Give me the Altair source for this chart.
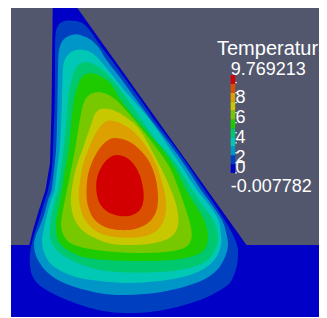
import altair as alt
import pandas as pd

# ---- frame of the rendered field (picture units, y grows downward) ----
FRAME_X = [11, 319]
FRAME_Y = [8, 317]

SUBSTRATE_X = [11, 327]
SUBSTRATE_Y = [245, 317]

DOMAIN_X = [52.7, 77.3, 246.5, 29.3, 33, 38, 45.5, 50, 51.5]
DOMAIN_Y = [8, 8, 245, 245, 230, 213, 190, 163, 110]

# contour boundaries (outer edge of each temperature band)
C1_X = [68, 76, 83, 89.5, 100, 111.5, 126, 140.5, 158, 177, 191, 204.5, 218, 230.5, 237, 238, 237, 234, 229, 217, 200, 173, 150, 130, 110, 90, 67, 50, 38, 32, 30, 30, 31.5, 35, 40.5, 45, 48, 51, 52.5, 53.5, 54.5, 55, 55, 55.5, 58, 62]
C1_Y = [20.5, 21, 23.5, 30, 45, 60, 80, 100, 125, 150, 170, 190, 210, 230, 245, 255, 265, 275, 284, 292, 300, 308, 312, 313, 312, 308, 300, 292, 284, 275, 265, 255, 245, 232, 215, 200, 190, 175, 160, 135, 110, 80, 60, 35, 26, 22]

C2_X = [74, 83, 91, 99, 106.5, 122, 136.5, 155, 174, 188, 201, 212, 222, 226, 228, 225, 217, 203, 180, 155, 128, 105, 78, 58, 45, 36.5, 34, 36, 39, 44, 48, 51.5, 54, 56, 57, 57.5, 58, 59, 64]
C2_Y = [34.5, 36, 40, 48, 60, 80, 100, 125, 150, 170, 190, 205, 220, 232, 245, 257, 270, 280, 288, 293, 295, 294, 288, 280, 270, 257, 245, 235, 228, 215, 200, 190, 170, 150, 125, 100, 70, 50, 39]

C3_X = [79, 88, 97, 108, 120, 133, 150, 162, 170.5, 184, 197, 209, 218.5, 221, 221, 217, 208, 190, 160, 128, 100, 80, 65, 52, 45, 42, 44, 47, 51, 54.5, 57, 59.5, 61, 62, 62.5, 64, 70]
C3_Y = [49.5, 51, 57, 70, 85, 100, 120, 137, 150, 170, 190, 205, 220, 235, 245, 256, 266, 275, 281, 283, 281, 278, 273, 265, 255, 242, 228, 215, 200, 190, 170, 150, 125, 100, 80, 62, 53]

C4_X = [83, 93, 104, 116, 128, 142, 156, 167, 180, 192, 203, 213, 218, 215, 205, 185, 160, 130, 100, 75, 60, 53, 50, 51, 55, 58, 61, 63.5, 66, 68, 71, 76]
C4_Y = [62.5, 64, 71, 84, 100, 120, 140, 152, 170, 190, 206, 220, 236, 250, 262, 269, 272, 272.5, 270, 262, 253, 245, 235, 220, 200, 190, 170, 150, 125, 100, 82, 68]

C5_X = [88, 98, 110, 121, 135, 150, 163, 175, 186, 196, 205, 208, 204, 190, 165, 130, 100, 80, 66, 58, 56, 58, 62, 65, 68.5, 71, 74, 78, 82]
C5_Y = [73.5, 75, 83, 100, 118, 135, 150, 168, 190, 206, 222, 238, 250, 257, 260.5, 261, 259.5, 256, 249, 240, 225, 210, 190, 170, 150, 125, 100, 85, 77]

C6_X = [95, 105, 116, 130, 145, 158, 170, 179, 186, 191, 191, 184, 165, 140, 115, 90, 72, 64, 61, 63, 67, 71, 75, 79, 83, 88]
C6_Y = [92.5, 93.5, 100, 115, 133, 150, 168, 190, 210, 228, 240, 248, 252, 253, 252, 249, 244, 236, 225, 210, 190, 170, 150, 125, 105, 96]

C7_X = [101, 113, 127, 140, 151.5, 162, 171, 177, 178, 171, 152, 130, 110, 95, 82, 74, 71, 72, 76, 83, 91, 95]
C7_Y = [109, 110, 118, 130, 150, 170, 190, 208, 225, 237, 243.5, 245, 243.5, 238, 230, 218, 203, 188, 168, 148, 125, 114]

C8_X = [107, 120, 133, 145, 155, 162, 166, 164, 155, 140, 122, 105, 92, 83, 79, 79.5, 83, 89, 97]
C8_Y = [121, 123, 131, 145, 162, 182, 202, 220, 232, 237, 237.5, 235, 228, 216, 200, 185, 165, 148, 131]

C9_X = [115, 128, 140, 150, 156, 158, 156, 148, 135, 120, 105, 94, 88, 86.5, 88, 93, 100, 107]
C9_Y = [138, 141, 150, 163, 180, 198, 212, 223, 229, 230, 227, 219, 206, 192, 175, 160, 148, 141]

C10_X = [117, 127, 135, 140, 143, 143.5, 140, 131, 120, 108, 100, 96.5, 97, 102, 109]
C10_Y = [155, 158, 166, 176, 188, 200, 210, 215.5, 216, 212, 204, 192, 178, 166, 158]

BAND_COLORS = ["#0000c6", "#0040c0", "#0096c8", "#00c8b4", "#00c86e", "#1ecb00",
               "#78c800", "#c8c800", "#dca000", "#d85000", "#d20000"]

# colour bar
T_MIN = -0.007782
T_MAX = 9.769213
BAND_EDGES = [-0.007782, 0.881036, 1.769854, 2.658672, 3.547490, 4.436308,
              5.325126, 6.213944, 7.102762, 7.991580, 8.880398, 9.769213]
TICK_VALUES = [8, 6, 4, 2]
TICK_LABELS = ["8", "6", "4", "2"]
ZERO_VALUE = [0]
ZERO_LABEL = ["0"]
MINOR_TICKS = [0, 1, 2, 3, 4, 5, 6, 7, 8, 9]
TITLE = "Temperature"

BG = "#52576e"
FONT = "Liberation Sans"

xs = alt.Scale(domain=FRAME_X, nice=False, zero=False)
ys = alt.Scale(domain=FRAME_Y, nice=False, zero=False, reverse=True)


def polygon(px, py, color, interp):
    df = pd.DataFrame({"x": px, "y": py, "i": list(range(len(px)))})
    return alt.Chart(df).mark_line(
        filled=True, color=color, interpolate=interp, strokeWidth=0, clip=True
    ).encode(
        x=alt.X("x:Q", scale=xs, axis=None),
        y=alt.Y("y:Q", scale=ys, axis=None),
        order=alt.Order("i:Q"),
    )


substrate = alt.Chart(pd.DataFrame({
    "x": [SUBSTRATE_X[0]], "x2": [SUBSTRATE_X[1]],
    "y": [SUBSTRATE_Y[0]], "y2": [SUBSTRATE_Y[1]],
})).mark_rect(color=BAND_COLORS[0], clip=True).encode(
    x=alt.X("x:Q", scale=xs, axis=None), x2="x2:Q",
    y=alt.Y("y:Q", scale=ys, axis=None), y2="y2:Q",
)

field_layers = [substrate, polygon(DOMAIN_X, DOMAIN_Y, BAND_COLORS[0], "linear-closed")]
contours = [(C1_X, C1_Y), (C2_X, C2_Y), (C3_X, C3_Y), (C4_X, C4_Y), (C5_X, C5_Y),
            (C6_X, C6_Y), (C7_X, C7_Y), (C8_X, C8_Y), (C9_X, C9_Y), (C10_X, C10_Y)]
for k, (cx, cy) in enumerate(contours):
    field_layers.append(polygon(cx, cy, BAND_COLORS[k + 1], "cardinal-closed"))

field = alt.layer(*field_layers)

# ---- colour bar ----
cb = alt.Scale(domain=[T_MIN, T_MAX], range=[165, 67], nice=False, zero=False)

bar_df = pd.DataFrame({"lo": BAND_EDGES[:-1], "hi": BAND_EDGES[1:], "c": BAND_COLORS})
bar = alt.Chart(bar_df).mark_rect().encode(
    y=alt.Y("lo:Q", scale=cb, axis=None), y2="hi:Q",
    x=alt.value(219.7), x2=alt.value(224.2),
    color=alt.Color("c:N", scale=None),
)

ticks = alt.Chart(pd.DataFrame({"v": MINOR_TICKS})).mark_rule(color="white", strokeWidth=1).encode(
    y=alt.Y("v:Q", scale=cb, axis=None), x=alt.value(224.2), x2=alt.value(226),
)

labels = alt.Chart(pd.DataFrame({"v": TICK_VALUES, "t": TICK_LABELS})).mark_text(
    align="left", baseline="alphabetic", dy=10, fontSize=18, font=FONT, color="white"
).encode(y=alt.Y("v:Q", scale=cb, axis=None), x=alt.value(224.5), text="t:N")

zero_label = alt.Chart(pd.DataFrame({"v": ZERO_VALUE, "t": ZERO_LABEL})).mark_text(
    align="left", baseline="alphabetic", dy=0.5, fontSize=18, font=FONT, color="white"
).encode(y=alt.Y("v:Q", scale=cb, axis=None), x=alt.value(224.5), text="t:N")

max_label = alt.Chart(pd.DataFrame({"v": [T_MAX], "t": [f"{T_MAX:.6f}"]})).mark_text(
    align="left", baseline="alphabetic", dy=0, fontSize=18, font=FONT, color="white"
).encode(y=alt.Y("v:Q", scale=cb, axis=None), x=alt.value(219.8), text="t:N")

min_label = alt.Chart(pd.DataFrame({"v": [T_MIN], "t": [f"{T_MIN:.6f}"]})).mark_text(
    align="left", baseline="alphabetic", dy=18.5, fontSize=18, font=FONT, color="white"
).encode(y=alt.Y("v:Q", scale=cb, axis=None), x=alt.value(219.8), text="t:N")

title = alt.Chart(pd.DataFrame({"v": [T_MAX], "t": [TITLE]})).mark_text(
    align="left", baseline="alphabetic", dy=-20, fontSize=20, font=FONT, color="white"
).encode(y=alt.Y("v:Q", scale=cb, axis=None), x=alt.value(206), text="t:N")

legend = alt.layer(bar, ticks, labels, zero_label, max_label, min_label, title)

chart = alt.layer(field, legend).resolve_scale(x="independent", y="independent").properties(
    width=308, height=309,
    autosize=alt.AutoSizeParams(type="none"),
    padding={"left": 3, "top": 0, "right": 0, "bottom": 0},
    background="white",
).configure_view(fill=BG, strokeWidth=0)

chart.save("out.html", embed_options={"renderer": "svg", "actions": False})
